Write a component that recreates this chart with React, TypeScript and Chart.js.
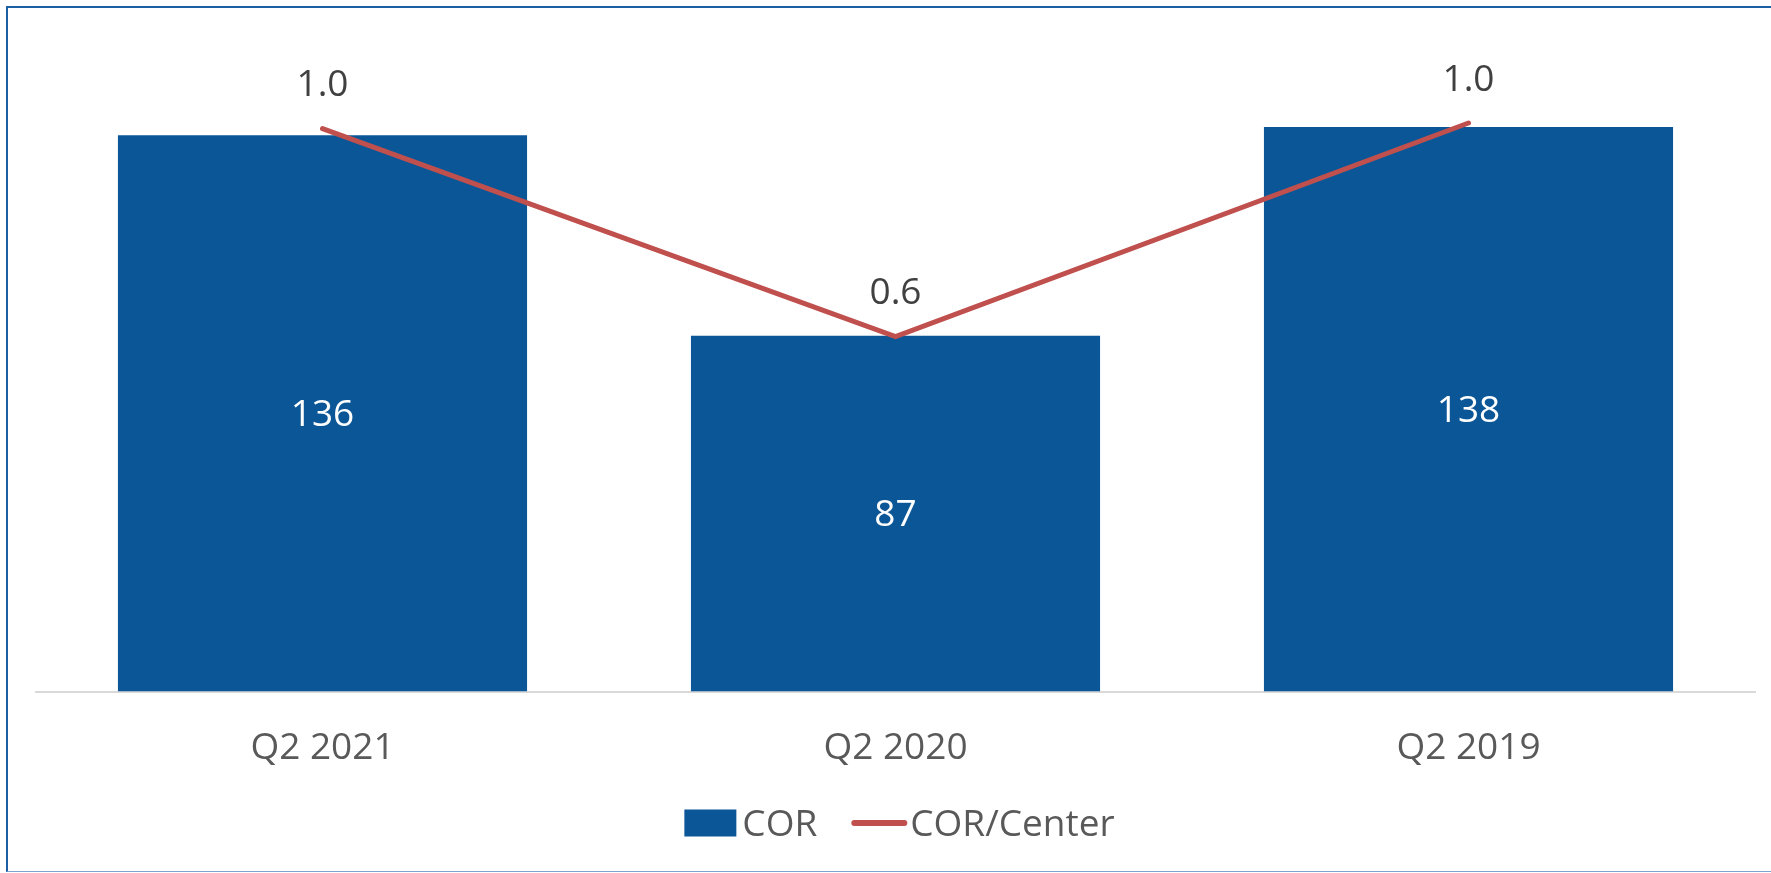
import React, { useEffect, useRef } from "react";
import { Chart, registerables } from "chart.js";

Chart.register(...registerables);

const categories = ["Q2 2021", "Q2 2020", "Q2 2019"];
const corValues = [136, 87, 138];
const corPerCenter = [1.015, 0.64, 1.025];
const seriesNames = ["COR", "COR/Center"];

const BAR_COLOR = "#0B5697";
const LINE_COLOR = "#C0504D";
const FONT = "'Open Sans', 'DejaVu Sans', sans-serif";

const labelsPlugin = {
  id: "valueLabels",
  afterDatasetsDraw(chart: any) {
    const ctx = chart.ctx;
    ctx.save();
    ctx.textAlign = "center";
    ctx.textBaseline = "middle";
    const barMeta = chart.getDatasetMeta(0);
    ctx.font = `37px ${FONT}`;
    ctx.fillStyle = "#FFFFFF";
    barMeta.data.forEach((el: any, i: number) => {
      const y = (el.y + el.base) / 2;
      ctx.fillText(String(chart.data.datasets[0].data[i]), el.x, y + 2);
    });
    const lineMeta = chart.getDatasetMeta(1);
    ctx.fillStyle = "#404040";
    lineMeta.data.forEach((el: any, i: number) => {
      const v = chart.data.datasets[1].data[i] as number;
      ctx.fillText(v.toFixed(1), el.x, el.y - 43);
    });
    ctx.restore();
  },
};

const legendPlugin = {
  id: "customLegend",
  afterDraw(chart: any) {
    const ctx = chart.ctx;
    const ds = chart.data.datasets;
    ctx.save();
    ctx.font = `37px ${FONT}`;
    ctx.textBaseline = "middle";
    ctx.textAlign = "left";
    const boxW = 52;
    const boxH = 27;
    const lineW = 56;
    const gapText = 6;
    const gapItem = 34;
    const t0 = ctx.measureText(ds[0].label).width;
    const t1 = ctx.measureText(ds[1].label).width;
    const total = boxW + gapText + t0 + gapItem + lineW + 3 + t1;
    const cx = (chart.chartArea.left + chart.chartArea.right) / 2 + 4;
    const cy = chart.height - 50;
    let x = cx - total / 2;
    ctx.fillStyle = ds[0].backgroundColor;
    ctx.fillRect(x, cy - boxH / 2, boxW, boxH);
    x += boxW + gapText;
    ctx.fillStyle = "#595959";
    ctx.fillText(ds[0].label, x, cy + 2);
    x += t0 + gapItem;
    ctx.strokeStyle = ds[1].borderColor;
    ctx.lineWidth = 6;
    ctx.lineCap = "round";
    ctx.beginPath();
    ctx.moveTo(x + 3, cy);
    ctx.lineTo(x + lineW - 3, cy);
    ctx.stroke();
    x += lineW + 3;
    ctx.fillText(ds[1].label, x, cy + 2);
    ctx.restore();
  },
};

export default function App() {
  const canvasRef = useRef<HTMLCanvasElement | null>(null);

  useEffect(() => {
    document.body.style.margin = "0";
    document.body.style.overflow = "hidden";
    const canvas = canvasRef.current;
    if (!canvas) return;
    const chart = new Chart(canvas, {
      type: "bar",
      data: {
        labels: categories,
        datasets: [
          {
            type: "bar",
            label: seriesNames[0],
            data: corValues,
            backgroundColor: BAR_COLOR,
            borderWidth: 0,
            categoryPercentage: 1,
            barPercentage: 0.714,
            yAxisID: "y",
            order: 1,
          } as any,
          {
            type: "line",
            label: seriesNames[1],
            data: corPerCenter,
            borderColor: LINE_COLOR,
            backgroundColor: LINE_COLOR,
            borderWidth: 5,
            borderCapStyle: "round",
            pointRadius: 0,
            tension: 0,
            yAxisID: "y1",
            order: 0,
          } as any,
        ],
      },
      options: {
        responsive: false,
        animation: false,
        devicePixelRatio: 1,
        layout: { padding: { left: 36, right: 16, top: 37, bottom: 67 } },
        plugins: {
          legend: { display: false },
          tooltip: { enabled: false },
        },
        scales: {
          x: {
            grid: { display: false, drawTicks: false },
            border: { display: true, color: "#D9D9D9", width: 2 },
            ticks: {
              padding: 35,
              color: "#595959",
              font: { family: FONT, size: 37 },
            },
          },
          y: { display: false, min: 0, max: 160 },
          y1: { display: false, min: 0, max: 1.18, position: "right" },
        },
      },
      plugins: [labelsPlugin, legendPlugin],
    });
    return () => chart.destroy();
  }, []);

  return (
    <div style={{ position: "relative", width: 1771, height: 873, overflow: "hidden", background: "#FFFFFF" }}>
      <div
        style={{
          position: "absolute",
          left: 6,
          top: 6,
          width: 1800,
          height: 866,
          boxSizing: "border-box",
          borderLeft: "2px solid #1C5FA3",
          borderTop: "2px solid #1C5FA3",
          borderBottom: "1px solid #7DA4D0",
        }}
      />
      <canvas
        ref={canvasRef}
        width={1771}
        height={873}
        style={{ position: "absolute", left: 0, top: 0, display: "block" }}
      />
    </div>
  );
}
